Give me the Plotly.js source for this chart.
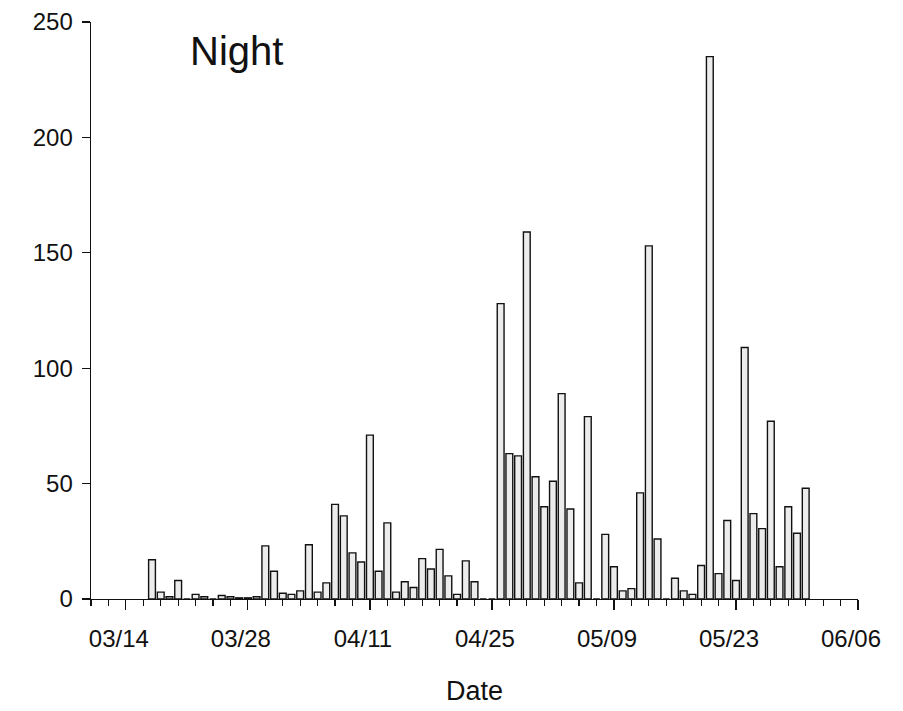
<!DOCTYPE html>
<html>
<head>
<meta charset="utf-8">
<script src="https://cdn.plot.ly/plotly-3.0.1.min.js"></script>
<style>html,body{margin:0;padding:0;background:#fff;}#chart{width:903px;height:711px;}</style>
</head>
<body>
<div id="chart"></div>
<script>
// Dates (month/day) of each nightly count
const dates = [
  "03-17","03-18","03-19","03-20","03-21","03-22","03-23","03-24","03-25","03-26",
  "03-27","03-28","03-29","03-30","03-31","04-01","04-02","04-03","04-04","04-05",
  "04-06","04-07","04-08","04-09","04-10","04-11","04-12","04-13","04-14","04-15",
  "04-16","04-17","04-18","04-19","04-20","04-21","04-22","04-23","04-24","04-25",
  "04-26","04-27","04-28","04-29","04-30","05-01","05-02","05-03","05-04","05-05",
  "05-06","05-07","05-08","05-09","05-10","05-11","05-12","05-13","05-14","05-15",
  "05-16","05-17","05-18","05-19","05-20","05-21","05-22","05-23","05-24","05-25",
  "05-26","05-27","05-28","05-29","05-30","05-31"
];
// Night counts
const nightCounts = [
  17, 3, 1, 8, 0, 2, 1, 0, 1.5, 1,
  0.5, 0.5, 1, 23, 12, 2.5, 2, 3.5, 23.5, 3,
  7, 41, 36, 20, 16, 71, 12, 33, 3, 7.5,
  5, 17.5, 13, 21.5, 10, 2, 16.5, 7.5, 0, 0,
  128, 63, 62, 159, 53, 40, 51, 89, 39, 7,
  79, 0, 28, 14, 3.5, 4.5, 46, 153, 26, 0,
  9, 3.5, 2, 14.5, 235, 11, 34, 8, 109, 37,
  30.5, 77, 14, 40, 28.5, 48
];
const year = "2010";
const xRange = ["03-10", "06-06"];
const yTicks = [0, 50, 100, 150, 200, 250];

const DAY = 86400000;
const x = dates.map(d => year + "-" + d);

const trace = {
  type: "bar",
  x: x,
  y: nightCounts,
  width: 0.78 * DAY,
  marker: {color: "#ececec", line: {color: "#111111", width: 1.4}},
  hoverinfo: "x+y"
};

const font = {family: "Liberation Sans, Arial, sans-serif", color: "#111111"};

const layout = {
  width: 903, height: 711,
  margin: {l: 91, r: 45, t: 22, b: 112},
  paper_bgcolor: "#ffffff", plot_bgcolor: "#ffffff",
  showlegend: false,
  bargap: 0,
  font: font,
  xaxis: {
    type: "date",
    range: [year + "-" + xRange[0], year + "-" + xRange[1]],
    tick0: year + "-03-14",
    dtick: 14 * DAY,
    tickformat: "%m/%d",
    ticks: "outside", ticklen: 10, tickwidth: 1.2, tickcolor: "#111",
    minor: {dtick: 2 * DAY, tick0: year + "-03-10", ticks: "outside", ticklen: 6, tickwidth: 1.2, tickcolor: "#111", showgrid: false},
    showline: true, linecolor: "#111", linewidth: 1.4,
    showgrid: false, zeroline: false,
    tickfont: {family: font.family, size: 24, color: "#111"},
    ticklabelshift: -7,
    ticklabelstandoff: 8,
    title: {text: "Date", font: {family: font.family, size: 27, color: "#111"}, standoff: 30},
    fixedrange: true
  },
  yaxis: {
    range: [0, 250],
    tickvals: yTicks,
    ticks: "outside", ticklen: 8, tickwidth: 1.2, tickcolor: "#111",
    showline: true, linecolor: "#111", linewidth: 1.4,
    showgrid: false, zeroline: false,
    tickfont: {family: font.family, size: 24, color: "#111"},
    ticklabelstandoff: 4,
    fixedrange: true
  },
  annotations: [{
    text: "Night", xref: "paper", yref: "paper",
    x: 0.1265, y: 0.95, xanchor: "left", yanchor: "middle",
    showarrow: false,
    font: {family: font.family, size: 40, color: "#111"}
  }]
};

Plotly.newPlot("chart", [trace], layout, {displayModeBar: false, staticPlot: true});
</script>
</body>
</html>
